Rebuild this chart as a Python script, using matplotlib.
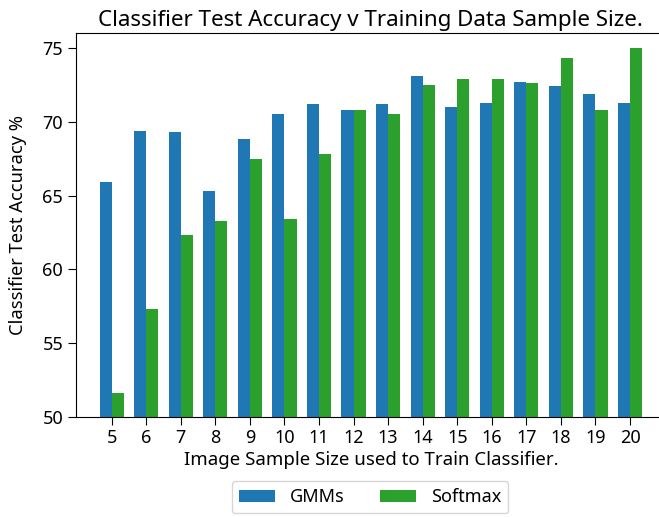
import matplotlib
matplotlib.use("Agg")
import matplotlib.pyplot as plt
import numpy as np

# ── Data ──────────────────────────────────────────────────
sample_sizes = [5, 6, 7, 8, 9, 10, 11, 12, 13, 14, 15, 16, 17, 18, 19, 20]
gmm_acc = [65.9, 69.4, 69.3, 65.3, 68.8, 70.5, 71.2, 70.8, 71.2, 73.1,
           71.0, 71.3, 72.7, 72.4, 71.9, 71.3]
softmax_acc = [51.6, 57.3, 62.3, 63.3, 67.5, 63.4, 67.8, 70.8, 70.5, 72.5,
               72.9, 72.9, 72.6, 74.3, 70.8, 75.0]

plt.rcParams["font.family"] = ["Noto Sans", "DejaVu Sans"]

fig = plt.figure(figsize=(6.59, 5.17), dpi=100)
ax = fig.add_axes([0.1149, 0.194, 0.8957, 0.7416])

x = np.array(sample_sizes)
width = 0.35
ax.bar(x - width / 2, gmm_acc, width, color="#1f77b4", label="GMMs")
ax.bar(x + width / 2, softmax_acc, width, color="#2ca02c", label="Softmax")

ax.set_xticks(x)
ax.set_xlim(3.96, 21.04)
ax.set_ylim(50, 76)
ax.tick_params(labelsize=13, length=5.5)

ax.set_title("Classifier Test Accuracy v Training Data Sample Size.", fontsize=16.1, pad=5)
ax.set_xlabel("Image Sample Size used to Train Classifier.", fontsize=13.4, labelpad=3)
ax.set_ylabel("Classifier Test Accuracy %", fontsize=13.2)
ax.yaxis.set_label_coords(-0.083, 0.5)

fig.legend(loc="upper center", bbox_to_anchor=(0.5615, 0.0696), ncol=2,
           fontsize=13, borderaxespad=0)

fig.savefig("out.png", dpi=100)
